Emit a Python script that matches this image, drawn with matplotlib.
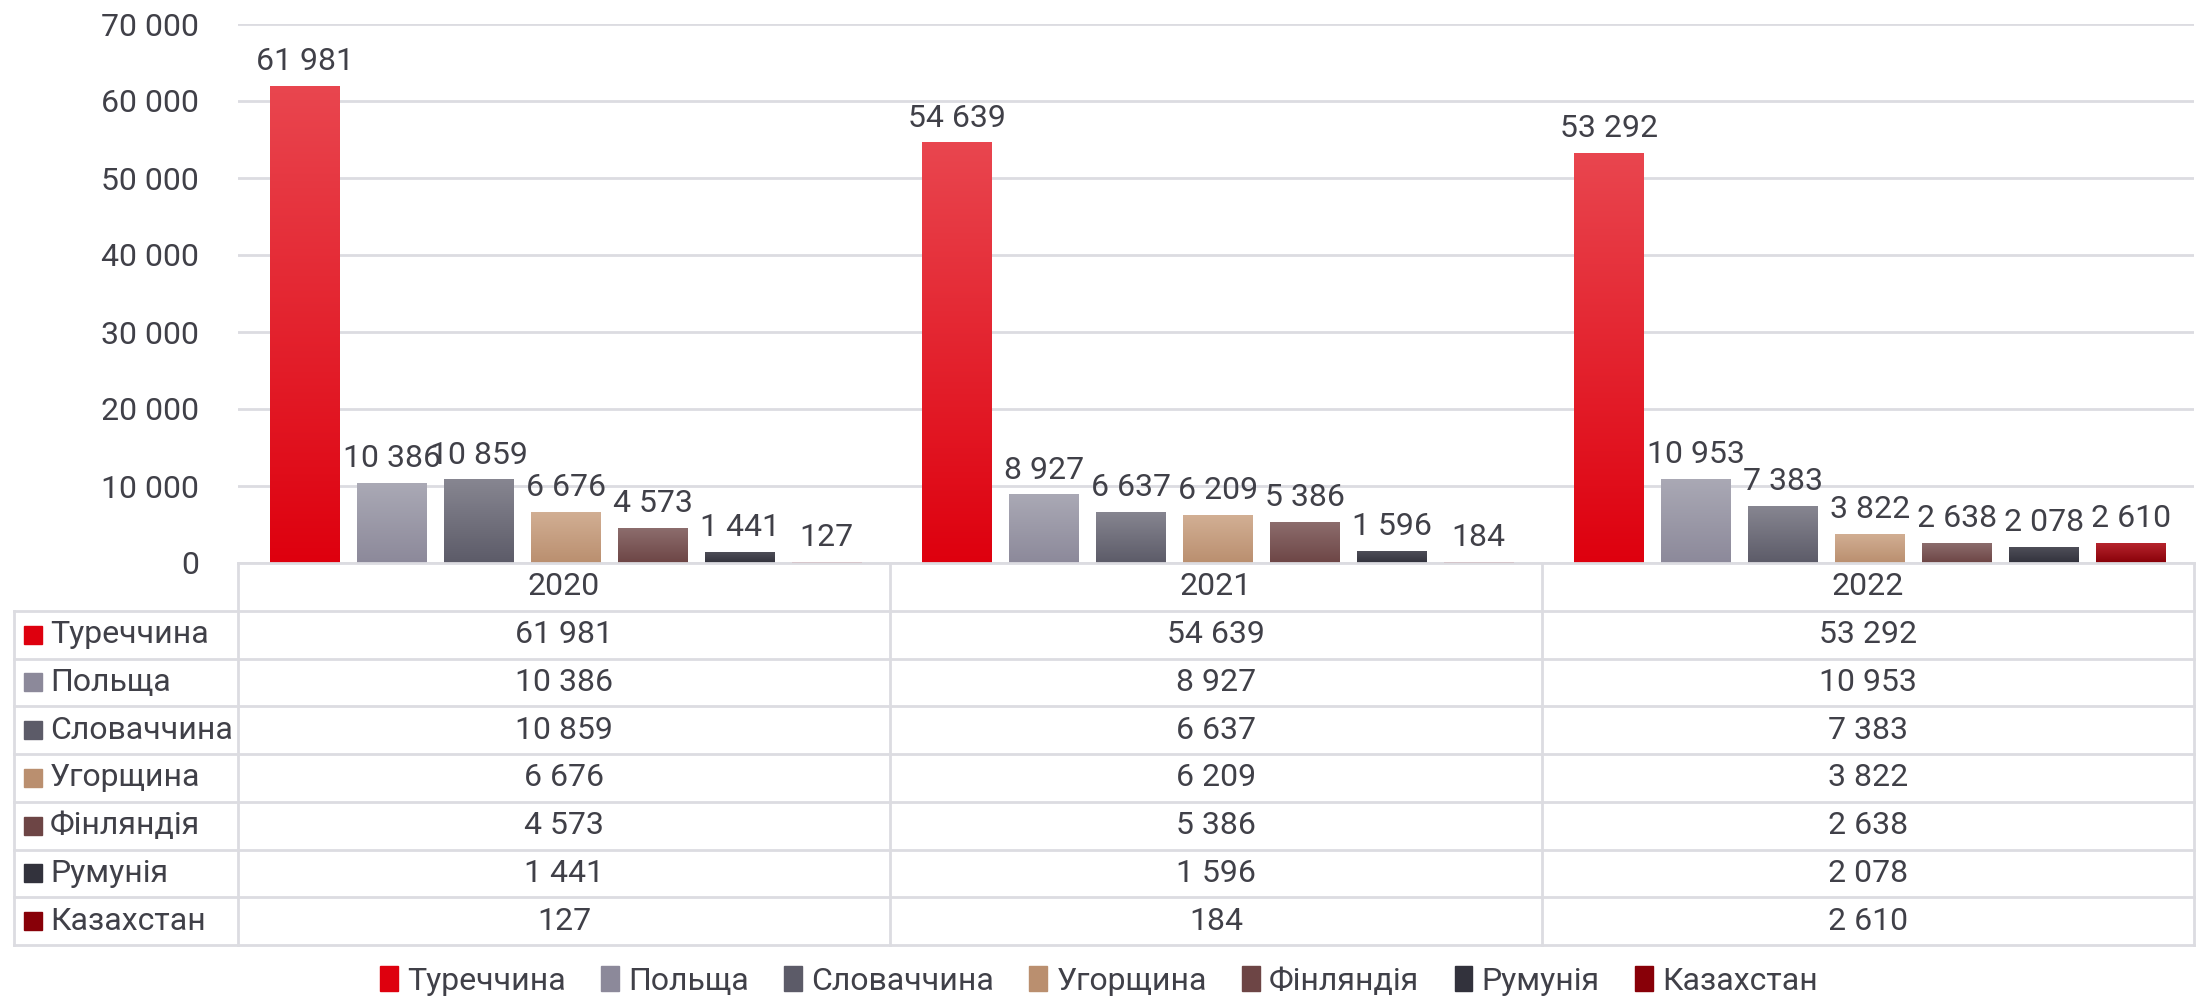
import matplotlib
matplotlib.use("Agg")
import matplotlib.pyplot as plt
import numpy as np
from matplotlib.patches import Rectangle
from matplotlib.colors import LinearSegmentedColormap

plt.rcParams['font.family'] = ['Roboto', 'DejaVu Sans']

years = ['2020', '2021', '2022']
countries = ['Туреччина', 'Польща', 'Словаччина', 'Угорщина', 'Фінляндія', 'Румунія', 'Казахстан']
values = {
    'Туреччина': [61981, 54639, 53292],
    'Польща': [10386, 8927, 10953],
    'Словаччина': [10859, 6637, 7383],
    'Угорщина': [6676, 6209, 3822],
    'Фінляндія': [4573, 5386, 2638],
    'Румунія': [1441, 1596, 2078],
    'Казахстан': [127, 184, 2610],
}
# gradient colours (top, bottom)
colors = {
    'Туреччина': ('#e9464f', '#de000e'),
    'Польща': ('#aaa9b5', '#8c899a'),
    'Словаччина': ('#878691', '#5c5b68'),
    'Угорщина': ('#d2af94', '#ba8f6f'),
    'Фінляндія': ('#8d6e6e', '#6d4545'),
    'Румунія': ('#50505a', '#32323c'),
    'Казахстан': ('#b8262f', '#880008'),
}
yticks = [0, 10000, 20000, 30000, 40000, 50000, 60000, 70000]

TXT = '#404048'
GRID = '#dcdce1'
FS = 23


def fmt(v):
    return f"{v:,}".replace(',', ' ')


W, H = 2198, 998
fig = plt.figure(figsize=(W / 100, H / 100), dpi=100)
ax = fig.add_axes([238 / W, (H - 563) / H, 1956 / W, (563 - 24) / H])
tab = fig.add_axes([238 / W, (H - 945) / H, 1956 / W, (945 - 563) / H], sharex=ax)

n = len(countries)
pitch = 0.1334
bw = 0.107
x = np.arange(len(years))

ax.set_xlim(-0.5, len(years) - 0.5)
ax.set_ylim(0, 70000)

for i, c in enumerate(countries):
    xs = x - 0.5 + 0.049 + i * pitch + bw / 2
    bars = ax.bar(xs, values[c], width=bw, color='none', edgecolor='none', zorder=3)
    cmap = LinearSegmentedColormap.from_list(c, [colors[c][1], colors[c][0]])
    grad = np.linspace(0, 1, 256).reshape(-1, 1)
    for b, v in zip(bars, values[c]):
        x0 = b.get_x()
        im = ax.imshow(grad, cmap=cmap, origin='lower', aspect='auto',
                       extent=(x0, x0 + bw, 0, v), zorder=3)
        im.set_clip_path(b)
        ax.annotate(fmt(v), (x0 + bw / 2, v), xytext=(0, 7), textcoords='offset points',
                    ha='center', va='bottom', fontsize=FS, color=TXT, zorder=4)

ax.set_xlim(-0.5, len(years) - 0.5)
ax.set_ylim(0, 70000)
ax.set_yticks(yticks)
ax.set_yticklabels([fmt(t) for t in yticks])
ax.tick_params(axis='y', length=0, pad=28, labelsize=FS, labelcolor=TXT)
ax.tick_params(axis='x', length=0, labelbottom=False)
ax.grid(axis='y', color=GRID, linewidth=2)
ax.set_axisbelow(True)
for s in ax.spines.values():
    s.set_visible(False)

# data table below the plot
px = 1 / 652.0
left = -0.5 - 224 * px
nrows = n + 1
tab.set_ylim(nrows, 0)
tab.axis('off')
lw = 2
# horizontal lines
tab.plot([-0.5, 2.5], [0, 0], color=GRID, lw=lw, clip_on=False)
for r in range(1, nrows + 1):
    tab.plot([left, 2.5], [r, r], color=GRID, lw=lw, clip_on=False)
# vertical lines
for xv in [-0.5, 0.5, 1.5, 2.5]:
    tab.plot([xv, xv], [0, nrows], color=GRID, lw=lw, clip_on=False)
tab.plot([left, left], [1, nrows], color=GRID, lw=lw, clip_on=False)

for j, y in enumerate(years):
    tab.text(j, 0.5, y, ha='center', va='center', fontsize=FS, color=TXT)
for i, c in enumerate(countries):
    r = i + 1.5
    tab.add_patch(Rectangle((left + 10 * px, r - 0.19), 18 * px, 0.38,
                            color=colors[c][1], clip_on=False))
    tab.text(left + 36 * px, r, c, ha='left', va='center', fontsize=FS, color=TXT, clip_on=False)
    for j in range(len(years)):
        tab.text(j, r, fmt(values[c][j]), ha='center', va='center', fontsize=FS, color=TXT)

handles = [Rectangle((0, 0), 1, 1, color=colors[c][1]) for c in countries]
fig.legend(handles, countries, loc='center', bbox_to_anchor=(0.5, (H - 981) / H), ncol=n,
           frameon=False, fontsize=FS, labelcolor=TXT, handlelength=0.55, handleheight=0.8,
           handletextpad=0.3, columnspacing=1.1)

fig.savefig('out.png', dpi=100)
